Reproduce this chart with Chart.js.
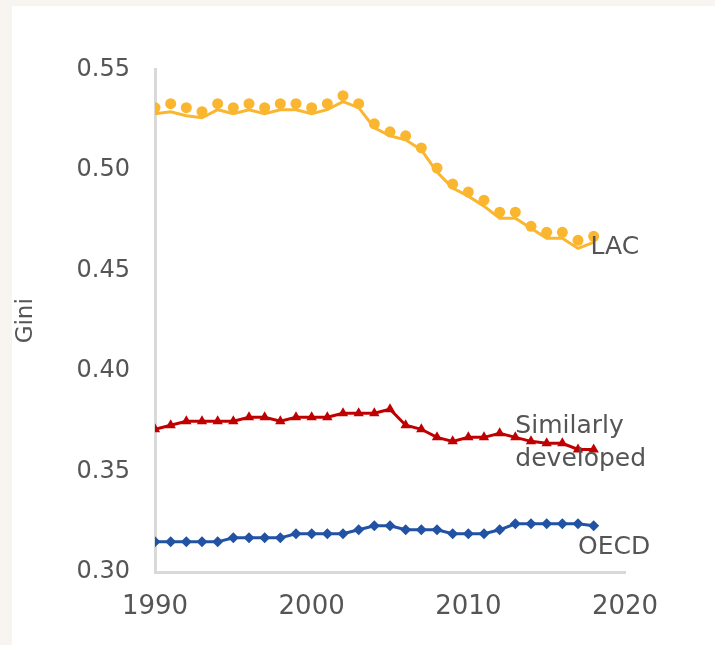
<!DOCTYPE html>
<html>
<head>
<meta charset="utf-8">
<script src="https://cdn.jsdelivr.net/npm/chart.js@4"></script>
<style>
    html, body { margin: 0; padding: 0; background: #f8f5f0; }
    #panel { position: absolute; left: 12px; top: 6px; width: 703px; height: 639px; background: #ffffff; }
    #chart { display: block; }
</style>
</head>
<body>
<div id="panel"><canvas id="chart" width="703" height="639"></canvas></div>
<script>
// Years on the x axis
const years = [1990, 1991, 1992, 1993, 1994, 1995, 1996, 1997, 1998, 1999,
               2000, 2001, 2002, 2003, 2004, 2005, 2006, 2007, 2008, 2009,
               2010, 2011, 2012, 2013, 2014, 2015, 2016, 2017, 2018];

// LAC: dots and the line are slightly apart in the source
const lacDots = [0.531, 0.533, 0.531, 0.529, 0.533, 0.531, 0.533, 0.531, 0.533, 0.533,
                 0.531, 0.533, 0.537, 0.533, 0.523, 0.519, 0.517, 0.511, 0.501, 0.493,
                 0.489, 0.485, 0.479, 0.479, 0.472, 0.469, 0.469, 0.465, 0.467];
const lacLine = [0.528, 0.529, 0.527, 0.526, 0.530, 0.528, 0.530, 0.528, 0.530, 0.530,
                 0.528, 0.530, 0.534, 0.531, 0.521, 0.517, 0.515, 0.510, 0.499, 0.491,
                 0.487, 0.482, 0.476, 0.476, 0.471, 0.466, 0.466, 0.461, 0.464];
const similarlyDeveloped = [0.371, 0.373, 0.375, 0.375, 0.375, 0.375, 0.377, 0.377, 0.375, 0.377,
                            0.377, 0.377, 0.379, 0.379, 0.379, 0.381, 0.373, 0.371, 0.367, 0.365,
                            0.367, 0.367, 0.369, 0.367, 0.365, 0.364, 0.364, 0.361, 0.361];
const oecd = [0.315, 0.315, 0.315, 0.315, 0.315, 0.317, 0.317, 0.317, 0.317, 0.319,
              0.319, 0.319, 0.319, 0.321, 0.323, 0.323, 0.321, 0.321, 0.321, 0.319,
              0.319, 0.319, 0.321, 0.324, 0.324, 0.324, 0.324, 0.324, 0.323];

const xTicks = [1990, 2000, 2010, 2020];
const yTicks = [0.30, 0.35, 0.40, 0.45, 0.50, 0.55];

// Series labels written next to the lines, placed in data units
const seriesLabels = [
    { text: 'LAC', x: 2017.8, y: 0.4614 },
    { text: 'Similarly', x: 2013.0, y: 0.3726 },
    { text: 'developed', x: 2013.0, y: 0.3562 },
    { text: 'OECD', x: 2017.0, y: 0.3122 }
];

const FONT = 'DejaVu Sans';
const TEXT = '#555555';

const toPoints = (values) => values.map((v, i) => ({ x: years[i], y: v }));

// Draw the text labels beside each series
const seriesLabelPlugin = {
    id: 'seriesLabels',
    afterDatasetsDraw(chart) {
        const ctx = chart.ctx;
        const xs = chart.scales.x;
        const ys = chart.scales.y;
        ctx.save();
        ctx.font = `25px "${FONT}"`;
        ctx.fillStyle = TEXT;
        ctx.textAlign = 'left';
        ctx.textBaseline = 'middle';
        seriesLabels.forEach(l => {
            ctx.fillText(l.text, xs.getPixelForValue(l.x), ys.getPixelForValue(l.y));
        });
        ctx.restore();
    }
};

const ctx = document.getElementById('chart').getContext('2d');

new Chart(ctx, {
    type: 'line',
    data: {
        datasets: [
            {
                label: 'LAC points',
                data: toPoints(lacDots),
                showLine: false,
                pointStyle: 'circle',
                pointRadius: 5.5,
                pointBackgroundColor: '#fbb630',
                pointBorderWidth: 0
            },
            {
                label: 'LAC',
                data: toPoints(lacLine),
                borderColor: '#fbb630',
                borderWidth: 3,
                pointRadius: 0,
                tension: 0
            },
            {
                label: 'Similarly developed',
                data: toPoints(similarlyDeveloped),
                borderColor: '#c00000',
                borderWidth: 3,
                pointStyle: 'triangle',
                pointRadius: 6,
                pointBackgroundColor: '#c00000',
                pointBorderWidth: 0,
                tension: 0
            },
            {
                label: 'OECD',
                data: toPoints(oecd),
                borderColor: '#2152a3',
                borderWidth: 3,
                pointStyle: 'rectRot',
                pointRadius: 5.5,
                pointBackgroundColor: '#2152a3',
                pointBorderWidth: 0,
                tension: 0
            }
        ]
    },
    options: {
        responsive: false,
        animation: false,
        devicePixelRatio: 1,
        layout: {
            padding: { left: 0, top: 63.5, right: 90, bottom: 0 }
        },
        plugins: {
            legend: { display: false },
            tooltip: { enabled: false }
        },
        scales: {
            x: {
                type: 'linear',
                min: 1990,
                max: 2020,
                afterFit: (scale) => { scale.height = 73; },
                afterBuildTicks: (scale) => { scale.ticks = xTicks.map(v => ({ value: v })); },
                grid: { display: false, drawTicks: false },
                border: { display: true, color: '#d9d9d9', width: 3 },
                ticks: {
                    padding: 20,
                    color: TEXT,
                    font: { family: FONT, size: 26 },
                    callback: (v) => String(v)
                }
            },
            y: {
                min: 0.30,
                max: 0.55,
                afterFit: (scale) => { scale.width = 143; },
                afterBuildTicks: (scale) => { scale.ticks = yTicks.map(v => ({ value: v })); },
                grid: { display: false, drawTicks: false },
                border: { display: true, color: '#d9d9d9', width: 3 },
                title: {
                    display: true,
                    text: 'Gini',
                    color: TEXT,
                    font: { family: FONT, size: 23 },
                    padding: 0
                },
                ticks: {
                    padding: 25,
                    color: TEXT,
                    font: { family: FONT, size: 24 },
                    callback: (v) => v.toFixed(2)
                }
            }
        }
    },
    plugins: [seriesLabelPlugin]
});
</script>
</body>
</html>
